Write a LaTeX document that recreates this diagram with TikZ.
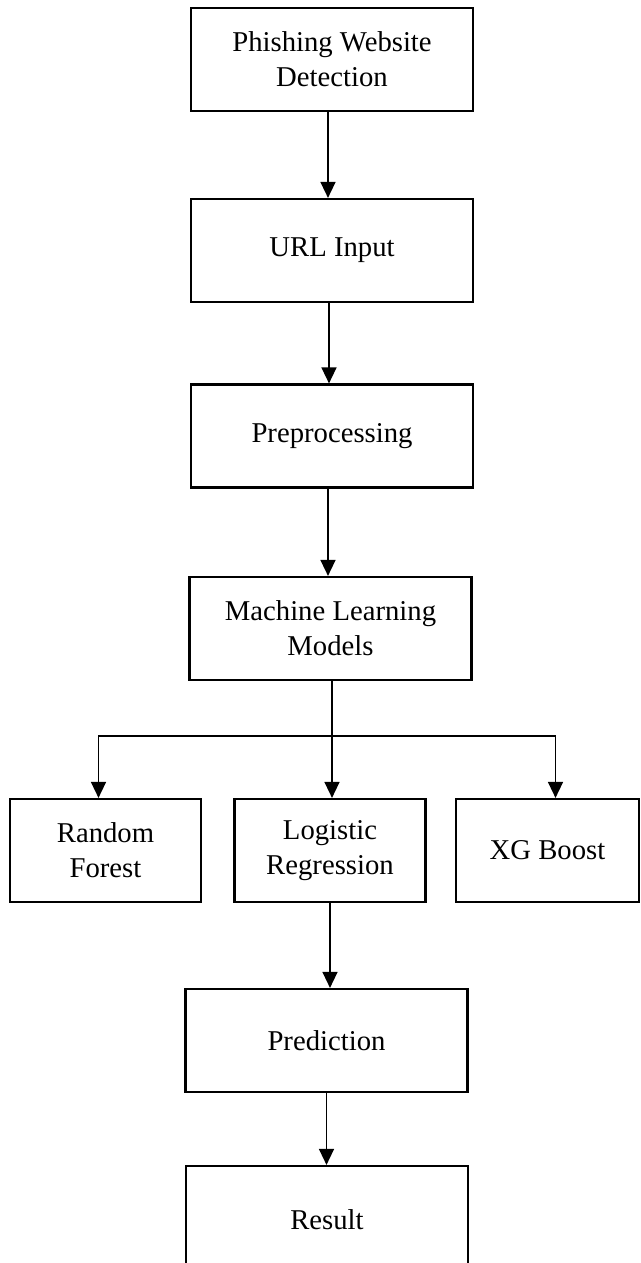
\documentclass[tikz,border=0pt]{standalone}
\usepackage{fontspec}
\setmainfont{Liberation Serif}
\usetikzlibrary{arrows.meta}

\tikzset{
  blk/.style={draw, line width=1.1pt, align=center, inner sep=0pt,
    font=\fontsize{14.35}{17.5}\selectfont},
  wide/.style={blk, minimum width=141pt, minimum height=51.5pt},
  small/.style={blk, minimum width=95.5pt, minimum height=51.5pt},
  flow/.style={-{Triangle[width=7.5pt,length=8pt]}, line width=0.75pt},
}

\begin{document}
\begin{tikzpicture}[x=0.5pt,y=-0.5pt]
    \clip (0,0) rectangle (641,1263);
    % main column
    \node[wide] (detect) at (332,59.5) {Phishing Website\\Detection};
    \node[wide] (url) at (332,250.5) {URL Input};
    \node[wide] (prep) at (332,436) {Preprocessing};
    \node[wide] (models) at (330.5,628.5) {Machine Learning\\Models};

    % the three classifiers
    \node[small] (forest) at (105.5,850.5) {Random\\Forest};
    \node[small] (logit) at (330,850.5) {Logistic\\Regression};
    \node[small, minimum width=91.5pt] (xgb) at (547.5,850.5) {XG Boost};

    \node[wide] (pred) at (326.5,1040.5) {Prediction};
    \node[wide, minimum height=54pt] (result) at (327,1220) {Result};

    \coordinate (split) at (332,736);

    \draw[flow] ([xshift=-2pt] detect.south) -- ([xshift=-2pt] detect.south |- url.north);
    \draw[flow] ([xshift=-1.5pt] url.south) -- ([xshift=-1.5pt] url.south |- prep.north);
    \draw[flow] ([xshift=-2pt] prep.south) -- ([xshift=-2pt] prep.south |- models.north);
    \draw[flow] (models.south -| split) -- (split) -- (split |- logit.north);
    \draw[flow] (split) -| ([xshift=-3.5pt] forest.north);
    \draw[flow] (split) -| ([xshift=4pt] xgb.north);
    \draw[flow] (logit.south) -- (logit.south |- pred.north);
    \draw[flow] (pred.south) -- (pred.south |- result.north);
  \end{tikzpicture}
\end{document}
